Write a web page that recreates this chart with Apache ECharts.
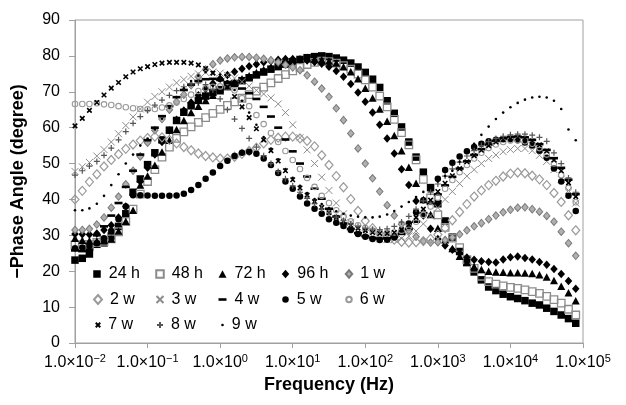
<!DOCTYPE html>
<html>
<head>
<meta charset="utf-8">
<script src="https://cdn.jsdelivr.net/npm/echarts@6/dist/echarts.min.js"></script>
<style>
  html, body { margin: 0; padding: 0; background: #fff; }
  #chart { width: 626px; height: 405px; }
</style>
</head>
<body>
<div id="chart"></div>
<script>
// Frequencies (Hz), ten points per decade from 0.01 Hz to about 79 kHz
const freqHz = [
  0.01, 0.0126, 0.0158, 0.02, 0.0251, 0.0316, 0.0398, 0.0501, 0.0631, 0.0794,
  0.1, 0.126, 0.158, 0.2, 0.251, 0.316, 0.398, 0.501, 0.631, 0.794,
  1, 1.26, 1.58, 2, 2.51, 3.16, 3.98, 5.01, 6.31, 7.94,
  10, 12.6, 15.8, 20, 25.1, 31.6, 39.8, 50.1, 63.1, 79.4,
  100, 126, 158, 200, 251, 316, 398, 501, 631, 794,
  1000, 1259, 1585, 1995, 2512, 3162, 3981, 5012, 6310, 7943,
  10000, 12589, 15849, 19953, 25119, 31623, 39811, 50119, 63096, 79433
];

// -Phase angle (degree) for each immersion time
const h24 = [
  23.1, 23.6, 24.8, 27.5, 27.9, 29.8, 32.5, 36.0, 42.0, 45.7,
  49.7, 53.0, 56.6, 59.3, 62.0, 64.3, 66.1, 67.6, 68.8, 69.8,
  70.6, 71.5, 72.3, 73.1, 73.9, 74.7, 75.5, 76.3, 77.0, 77.7,
  78.4, 79.0, 79.5, 79.8, 80.0, 79.8, 79.4, 78.8, 78.0, 76.9,
  75.4, 73.5, 71.2, 67.5, 64.0, 60.2, 56.0, 51.8, 47.6, 43.3,
  38.8, 34.0, 29.5, 25.5, 22.4, 19.8, 17.6, 15.6, 14.6, 13.6,
  12.9, 12.4, 11.8, 11.1, 10.6, 9.7, 8.8, 7.8, 6.8, 5.5
];
const h48 = [
  27.3, 27.4, 27.5, 28.0, 28.3, 29.0, 31.0, 33.8, 37.3, 41.5,
  45.0, 48.3, 51.8, 54.6, 57.0, 58.8, 60.2, 61.5, 62.8, 64.0,
  65.1, 66.2, 67.2, 68.2, 69.2, 70.2, 71.3, 72.5, 73.7, 74.8,
  75.8, 76.8, 77.6, 78.2, 78.5, 78.4, 78.0, 77.3, 76.3, 74.9,
  73.3, 71.3, 68.8, 65.8, 62.3, 58.6, 55.2, 51.0, 45.6, 40.4,
  35.7, 32.2, 29.2, 26.6, 23.2, 20.8, 18.6, 17.1, 16.4, 15.9,
  15.5, 15.2, 14.8, 14.3, 13.8, 13.0, 12.1, 11.1, 9.4, 7.8
];
const h72 = [
  29.2, 28.6, 28.5, 28.4, 28.6, 29.0, 31.2, 33.9, 37.0, 44.0,
  46.5, 49.5, 53.2, 56.5, 59.5, 62.0, 64.2, 66.0, 67.6, 69.0,
  70.3, 71.5, 72.6, 73.6, 74.5, 75.4, 76.2, 77.0, 77.7, 78.3,
  78.8, 79.1, 79.2, 79.1, 78.9, 78.6, 78.0, 77.0, 75.6, 73.6,
  71.0, 68.3, 65.2, 61.8, 57.8, 53.6, 49.0, 44.5, 40.0, 35.8,
  32.0, 28.8, 26.3, 24.2, 22.5, 21.3, 20.5, 20.0, 19.8, 19.7,
  19.6, 19.6, 19.5, 19.4, 19.0, 18.4, 17.4, 15.8, 14.0, 11.8
];
const h96 = [
  30.4, 30.3, 30.2, 30.5, 31.5, 32.8, 35.0, 38.0, 41.5, 45.0,
  48.8, 52.5, 56.0, 59.2, 62.2, 64.8, 67.0, 69.0, 70.8, 72.3,
  73.6, 74.7, 75.6, 76.4, 77.1, 77.7, 78.2, 78.6, 78.9, 79.1,
  79.1, 79.0, 78.7, 78.3, 77.8, 77.0, 75.8, 74.2, 72.2, 69.8,
  67.2, 64.2, 60.8, 57.0, 52.8, 48.4, 44.0, 39.6, 35.5, 31.8,
  29.0, 27.2, 26.0, 25.0, 23.8, 23.2, 22.8, 22.6, 22.4, 23.3,
  23.9, 24.1, 23.7, 23.3, 22.6, 21.8, 20.6, 19.2, 17.3, 15.1
];
const w1 = [
  31.5, 31.5, 31.8, 33.0, 35.0, 37.7, 40.8, 44.2, 48.0, 52.0,
  55.8, 59.3, 62.4, 65.0, 67.2, 69.2, 71.8, 74.2, 76.2, 77.7,
  78.7, 79.3, 79.6, 79.7, 79.7, 79.5, 79.2, 78.8, 78.2, 77.5,
  76.8, 76.0, 74.6, 72.8, 70.9, 68.6, 65.4, 62.1, 58.4, 54.2,
  50.0, 45.9, 42.2, 38.4, 35.5, 33.1, 31.3, 29.6, 28.4, 28.0,
  28.1, 28.7, 29.4, 30.3, 31.4, 32.5, 33.4, 34.5, 35.5, 36.4,
  37.1, 37.7, 37.8, 37.3, 36.6, 35.4, 33.8, 31.0, 27.8, 24.3
];
const w2 = [
  40.0, 42.4, 44.9, 47.0, 49.2, 51.0, 52.6, 54.1, 55.3, 56.4,
  57.1, 57.5, 57.3, 56.6, 55.6, 54.6, 53.7, 52.8, 52.1, 51.7,
  51.4, 51.4, 51.9, 52.7, 53.5, 54.4, 55.6, 56.6, 57.2, 57.5,
  57.5, 57.0, 56.3, 54.8, 52.3, 49.6, 46.5, 43.4, 40.1, 36.8,
  34.0, 32.0, 30.6, 29.8, 28.8, 28.2, 28.0, 28.1, 28.4, 29.0,
  30.2, 32.0, 34.2, 36.5, 38.7, 40.8, 42.5, 44.0, 45.2, 46.4,
  47.2, 47.5, 47.3, 46.6, 45.6, 44.0, 41.8, 39.3, 35.6, 31.4
];
const w3 = [
  47.8, 49.1, 50.3, 52.1, 53.9, 56.0, 58.3, 60.6, 63.0, 65.2,
  67.1, 68.7, 70.0, 71.3, 72.5, 73.4, 74.3, 75.0, 75.4, 75.5,
  75.2, 74.6, 73.8, 72.8, 71.6, 70.4, 69.4, 68.3, 66.6, 64.2,
  60.8, 57.2, 53.8, 50.0, 46.2, 42.5, 39.0, 36.0, 33.6, 31.8,
  30.5, 29.6, 29.0, 28.8, 28.8, 29.1, 29.8, 31.2, 33.2, 35.4,
  37.7, 40.0, 42.2, 44.4, 46.5, 48.3, 50.0, 51.4, 52.4, 53.3,
  53.9, 54.2, 54.2, 53.6, 52.3, 50.6, 48.3, 45.6, 42.5, 39.0
];
const w4 = [
  25.8, 25.6, 26.0, 30.0, 32.5, 35.5, 39.0, 43.5, 48.0, 52.5,
  56.5, 60.0, 63.2, 66.0, 68.5, 70.5, 72.0, 73.0, 73.5, 73.6,
  73.3, 72.7, 71.9, 70.9, 69.6, 68.0, 65.8, 63.1, 60.0, 56.7,
  53.4, 50.0, 46.4, 43.0, 40.2, 37.4, 35.2, 33.3, 31.8, 30.6,
  29.8, 29.3, 29.1, 29.2, 29.6, 30.4, 31.8, 33.8, 36.2, 38.8,
  41.4, 43.9, 46.3, 48.6, 50.6, 52.4, 54.0, 55.3, 56.3, 57.0,
  57.4, 57.5, 57.3, 56.6, 55.4, 53.8, 51.5, 48.8, 45.5, 41.5
];
const w5 = [
  26.4, 26.6, 27.0, 27.8, 29.2, 31.2, 34.5, 38.0, 41.2, 41.2,
  41.1, 41.0, 41.0, 41.0, 41.1, 41.6, 42.6, 44.0, 45.8, 47.5,
  49.3, 50.8, 52.1, 53.0, 53.3, 52.7, 51.4, 49.6, 47.4, 45.0,
  43.0, 40.8, 38.9, 37.4, 36.0, 34.5, 33.5, 32.6, 31.5, 30.4,
  29.6, 29.0, 28.7, 28.8, 29.4, 31.0, 33.3, 36.4, 39.8, 43.0,
  45.8, 48.2, 50.2, 52.0, 53.4, 54.6, 55.5, 56.2, 56.6, 56.8,
  56.8, 56.5, 55.9, 55.0, 53.6, 51.6, 48.6, 45.0, 41.0, 36.8
];
const w6 = [
  66.6, 66.6, 66.6, 66.8, 66.5, 66.3, 66.0, 65.7, 65.4, 65.2,
  65.1, 65.2, 65.6, 66.2, 67.0, 68.0, 69.2, 70.2, 71.0, 71.4,
  71.5, 71.2, 70.4, 68.2, 66.0, 63.5, 61.0, 58.5, 56.0, 53.5,
  51.0, 48.5, 46.0, 43.5, 41.0, 39.0, 37.0, 35.3, 33.9, 32.8,
  32.0, 31.3, 30.9, 30.7, 30.8, 31.3, 32.3, 33.8, 35.7, 38.0,
  40.5, 43.0, 45.4, 47.6, 49.6, 51.4, 53.0, 54.3, 55.3, 56.0,
  56.4, 56.5, 56.2, 55.5, 54.3, 52.5, 50.0, 46.8, 43.2, 39.2
];
const w7 = [
  60.5, 62.6, 64.8, 67.0, 69.1, 71.0, 72.6, 74.2, 75.5, 76.4,
  77.0, 77.6, 78.0, 78.2, 78.2, 78.2, 78.0, 77.5, 76.5, 75.2,
  73.5, 71.3, 68.7, 65.8, 62.8, 59.7, 56.6, 53.6, 50.7, 48.0,
  45.5, 43.2, 41.2, 39.4, 37.8, 36.3, 35.0, 33.8, 32.8, 32.0,
  31.3, 30.8, 30.5, 30.5, 30.8, 31.6, 33.0, 35.0, 37.3, 39.8,
  42.2, 44.5, 46.6, 48.6, 50.5, 52.2, 53.7, 55.0, 56.0, 56.7,
  57.1, 57.2, 57.0, 56.3, 55.2, 53.5, 51.0, 48.0, 44.6, 40.8
];
const w8 = [
  46.8, 48.0, 49.3, 50.6, 52.3, 54.3, 56.6, 58.9, 61.2, 63.1,
  64.8, 66.3, 67.7, 69.0, 70.3, 71.4, 72.2, 72.5, 72.0, 70.5,
  68.0, 65.0, 62.4, 59.8, 57.0, 54.6, 52.2, 50.0, 47.8, 45.8,
  43.8, 42.0, 40.3, 38.8, 37.4, 36.2, 35.1, 34.1, 33.2, 32.5,
  32.0, 31.7, 31.6, 31.8, 32.5, 33.7, 35.3, 37.3, 39.6, 42.0,
  44.3, 46.5, 48.5, 50.4, 52.1, 53.6, 55.0, 56.1, 57.0, 57.6,
  58.0, 58.2, 58.2, 57.9, 57.3, 56.2, 53.0, 50.0, 46.0, 42.0
];
const w9 = [
  37.0, 37.0, 37.5, 38.8, 41.0, 44.0, 47.0, 50.0, 52.5, 55.0,
  57.0, 59.5, 62.5, 65.5, 68.5, 71.0, 73.0, 74.5, 75.5, 75.5,
  74.8, 73.0, 70.5, 67.5, 64.2, 60.8, 57.4, 54.2, 51.2, 48.5,
  46.0, 43.8, 41.8, 40.1, 38.7, 37.6, 36.7, 36.0, 35.5, 35.2,
  35.0, 35.0, 35.2, 35.8, 36.8, 38.0, 39.3, 40.7, 42.1, 43.5,
  45.0, 46.5, 48.0, 50.5, 53.0, 55.5, 58.0, 60.3, 62.4, 64.2,
  65.7, 66.9, 67.8, 68.4, 68.6, 68.4, 67.5, 65.2, 59.5, 56.5
];

const seriesNames = ['24 h', '48 h', '72 h', '96 h', '1 w', '2 w', '3 w', '4 w', '5 w', '6 w', '7 w', '8 w', '9 w'];
const seriesValues = [h24, h48, h72, h96, w1, w2, w3, w4, w5, w6, w7, w8, w9];

// Exponent text for the decade tick labels 1.0×10^n
const xTickExponents = ['−2', '−1', '0', '1', '2', '3', '4', '5'];
const yTicks = [0, 10, 20, 30, 40, 50, 60, 70, 80, 90];

const FONT = '"Liberation Sans", Arial, Helvetica, sans-serif';
const CROSS = 'path://M0,0L10,10M10,0L0,10';
const PLUS = 'path://M5,0L5,10M0,5L10,5';
const CLEAR = 'rgba(255,255,255,0)';

// Marker look for each series
const markerStyles = [
  { symbol: 'rect', size: [7.5, 7.5], item: { color: '#000' } },
  { symbol: 'rect', size: [7.5, 7.5], item: { color: CLEAR, borderColor: '#8c8c8c', borderWidth: 1.3 } },
  { symbol: 'triangle', size: [8, 7.5], item: { color: '#000' } },
  { symbol: 'diamond', size: [7.5, 8.5], item: { color: '#000' } },
  { symbol: 'diamond', size: [6.5, 7.5], item: { color: '#b0b0b0', borderColor: '#7a7a7a', borderWidth: 1 } },
  { symbol: 'diamond', size: [8, 9], item: { color: CLEAR, borderColor: '#9a9a9a', borderWidth: 1.2 } },
  { symbol: CROSS, size: [7, 7], item: { color: CLEAR, borderColor: '#8c8c8c', borderWidth: 1 } },
  { symbol: 'rect', size: [8, 2.6], item: { color: '#000' } },
  { symbol: 'circle', size: [6.5, 6.5], item: { color: '#000' } },
  { symbol: 'circle', size: [5.5, 5.5], item: { color: CLEAR, borderColor: '#999', borderWidth: 1.1 } },
  { symbol: CROSS, size: [4.5, 4.5], item: { color: CLEAR, borderColor: '#000', borderWidth: 1.6 } },
  { symbol: PLUS, size: [6, 6], item: { color: CLEAR, borderColor: '#555', borderWidth: 1.2 } },
  { symbol: 'circle', size: [2.6, 2.6], item: { color: '#000' } }
];

const series = seriesNames.map((name, i) => ({
  name: name,
  type: 'scatter',
  data: freqHz.map((f, k) => [f, seriesValues[i][k]]),
  symbol: markerStyles[i].symbol,
  symbolSize: markerStyles[i].size,
  symbolKeepAspect: false,
  itemStyle: Object.assign({ opacity: 1 }, markerStyles[i].item),
  emphasis: { disabled: true },
  silent: true,
  animation: false
}));

// Legend laid out as a 5-column block in the lower left of the plot
const legendCols = [97, 159, 222.5, 285.5, 348];
const legendRows = [274, 299.5, 325];
const legends = seriesNames.map((name, i) => {
  const col = i % 5, row = Math.floor(i / 5);
  const w = markerStyles[i].size[0], h = markerStyles[i].size[1];
  return {
    data: [name],
    left: legendCols[col] - w / 2,
    top: legendRows[row] - 9,
    padding: 0,
    itemWidth: w,
    itemHeight: h,
    selectedMode: false,
    textStyle: { fontFamily: FONT, fontSize: 16, color: '#000', lineHeight: 18, padding: [0, 0, 0, 3] }
  };
});

const chart = echarts.init(document.getElementById('chart'), null, { renderer: 'canvas' });
chart.setOption({
  animation: false,
  backgroundColor: '#fff',
  grid: {
    left: 75, right: 43, top: 20, bottom: 62,
    show: true, borderColor: '#a0a0a0', borderWidth: 1,
    containLabel: false, outerBoundsMode: 'none'
  },
  legend: legends,
  xAxis: {
    type: 'log',
    logBase: 10,
    min: 0.01,
    max: 100000,
    splitNumber: 7,
    name: 'Frequency (Hz)',
    nameLocation: 'middle',
    nameGap: 32,
    nameTextStyle: { fontFamily: FONT, fontSize: 18, fontWeight: 'bold', color: '#000' },
    axisLine: { show: true, lineStyle: { color: '#a0a0a0', width: 1 } },
    axisTick: { show: true, inside: false, length: 5, lineStyle: { color: '#a0a0a0' } },
    minorTick: { show: false },
    splitLine: { show: false },
    axisLabel: {
      margin: 10,
      formatter: function (v) {
        const idx = Math.round(Math.log10(v)) + 2;
        return '{m|1.0×10}{s|' + xTickExponents[idx] + '}';
      },
      rich: {
        m: { fontFamily: FONT, fontSize: 16, color: '#000', lineHeight: 20, verticalAlign: 'middle' },
        s: { fontFamily: FONT, fontSize: 11, color: '#000', lineHeight: 12, verticalAlign: 'top' }
      }
    }
  },
  yAxis: {
    type: 'value',
    min: yTicks[0],
    max: yTicks[yTicks.length - 1],
    interval: 10,
    name: '−Phase Angle (degree)',
    nameLocation: 'middle',
    nameGap: 48,
    nameTextStyle: { fontFamily: FONT, fontSize: 18, fontWeight: 'bold', color: '#000' },
    axisLine: { show: true, lineStyle: { color: '#a0a0a0', width: 1 } },
    axisTick: { show: true, inside: false, length: 6, lineStyle: { color: '#a0a0a0' } },
    splitLine: { show: false },
    axisLabel: { margin: 15, fontFamily: FONT, fontSize: 16, color: '#000' }
  },
  series: series
});
</script>
</body>
</html>
